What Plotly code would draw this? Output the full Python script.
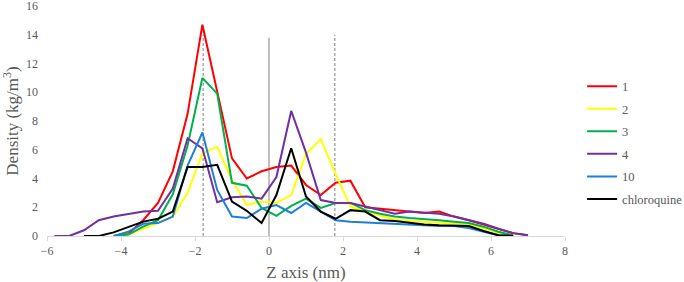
import plotly.graph_objects as go

z_all = [-5.8, -5.4, -5.0, -4.6, -4.2, -3.8, -3.4, -3.0, -2.6, -2.2, -1.8, -1.4, -1.0, -0.6, -0.2,
         0.2, 0.6, 1.0, 1.4, 1.8, 2.2, 2.6, 3.0, 3.4, 3.8, 4.2, 4.6, 5.0, 5.4, 5.8, 6.2, 6.6, 7.0]

# series values (kg/m^3); None = no data at that z
s1 = [None, None, None, None, 0.0, 0.15, 1.1, 2.3, 4.5, 8.5, 14.7, 10.0, 5.4, 4.0, 4.5,
      4.8, 4.9, 3.55, 2.85, 3.7, 3.85, 2.0, 1.9, 1.8, 1.7, 1.6, 1.7, 1.35, 1.1, 0.8, 0.5, 0.2, 0.05]
s2 = [None, None, None, None, 0.0, 0.1, 0.5, 0.9, 1.35, 3.0, 5.75, 6.2, 3.9, 2.15, 2.4,
      2.3, 2.85, 5.7, 6.75, 4.3, 2.05, 1.7, 1.4, 1.15, 1.05, 1.0, 0.9, 0.85, 0.8, 0.55, 0.2, 0.0, None]
s3 = [None, None, None, None, 0.0, 0.1, 0.65, 1.1, 2.9, 6.3, 11.0, 9.9, 3.7, 3.5, 1.95,
      1.4, 2.1, 2.6, 1.95, 2.3, 2.3, 1.8, 1.55, 1.35, 1.25, 1.2, 1.1, 1.0, 0.9, 0.65, 0.3, 0.05, None]
s4 = [0.0, 0.0, 0.4, 1.1, 1.35, 1.5, 1.7, 1.75, 3.3, 6.8, 6.1, 2.35, 2.7, 2.75, 2.6,
      4.1, 8.7, 5.8, 2.5, 2.3, 2.3, 2.05, 1.8, 1.55, 1.7, 1.6, 1.55, 1.35, 1.1, 0.85, 0.5, 0.2, 0.05]
s10 = [None, None, None, None, 0.0, 0.3, 0.85, 0.9, 1.35, 4.9, 7.2, 3.2, 1.35, 1.25, 1.9,
       2.15, 1.6, 2.3, 1.7, 1.1, 1.0, 0.95, 0.9, 0.8, 0.75, 0.75, 0.7, 0.7, 0.55, 0.3, 0.05, 0.0, None]
chloroquine = [None, None, 0.0, 0.0, 0.25, 0.65, 1.0, 1.2, 1.7, 4.8, 4.8, 4.95, 2.4, 1.75, 0.9,
               2.85, 6.1, 2.75, 1.7, 1.2, 1.8, 1.7, 1.1, 1.05, 0.9, 0.8, 0.75, 0.75, 0.7, 0.35, 0.05, 0.0, None]

series_names = ["1", "2", "3", "4", "10", "chloroquine"]
series_values = [s1, s2, s3, s4, s10, chloroquine]
series_colors = ["#FF0000", "#FFFF00", "#00B050", "#7030A0", "#1E7FD8", "#000000"]

center_x = 0.0
center_top = 13.8
boundary_x = [-1.78, 1.78]
boundary_top = 14.0

x_ticks = [-6, -4, -2, 0, 2, 4, 6, 8]
y_ticks = [0, 2, 4, 6, 8, 10, 12, 14, 16]

fig = go.Figure()
for name, vals, col in zip(series_names, series_values, series_colors):
    xs = [z for z, v in zip(z_all, vals) if v is not None]
    ys = [v for v in vals if v is not None]
    fig.add_trace(go.Scatter(x=xs, y=ys, mode="lines", name=name, legendgroup=name,
                             line=dict(color=col, width=2)))

fig.add_shape(type="line", xref="x", yref="y", x0=center_x, x1=center_x, y0=0, y1=center_top,
              line=dict(color="#808080", width=1), layer="below")
for bx in boundary_x:
    fig.add_shape(type="line", xref="x", yref="y", x0=bx, x1=bx, y0=0, y1=boundary_top,
                  line=dict(color="#808080", width=1, dash="3px,2px"), layer="below")

serif = "Liberation Serif, Times New Roman, serif"
fig.update_layout(
    width=684, height=282,
    margin=dict(l=47, r=119, t=6, b=46, autoexpand=False),
    paper_bgcolor="white", plot_bgcolor="white",
    font=dict(family=serif, color="#595959", size=12),
    legend=dict(x=1.033, y=0.715, xanchor="left", yanchor="top",
                font=dict(family=serif, size=12.5, color="#595959"),
                traceorder="grouped", tracegroupgap=3.3, itemwidth=30,
                bgcolor="rgba(0,0,0,0)"),
    xaxis=dict(range=[-6, 8], tickvals=x_ticks, showgrid=False, zeroline=False,
               showline=True, linecolor="#D9D9D9", linewidth=1,
               ticks="outside", ticklen=4, tickcolor="#D9D9D9",
               tickfont=dict(family=serif, size=12, color="#595959"),
               title=dict(text="Z axis (nm)", font=dict(family=serif, size=17, color="#595959"), standoff=8)),
    yaxis=dict(range=[0, 16], tickvals=y_ticks, showgrid=False, zeroline=False,
               showline=False, ticks="", ticklabelstandoff=8, ticklabeloverflow="allow",
               tickfont=dict(family=serif, size=12, color="#595959"),
               title=dict(text="Density (kg/m<sup>3</sup>)", font=dict(family=serif, size=17, color="#595959"), standoff=6)),
)

fig.write_html("out.html")
